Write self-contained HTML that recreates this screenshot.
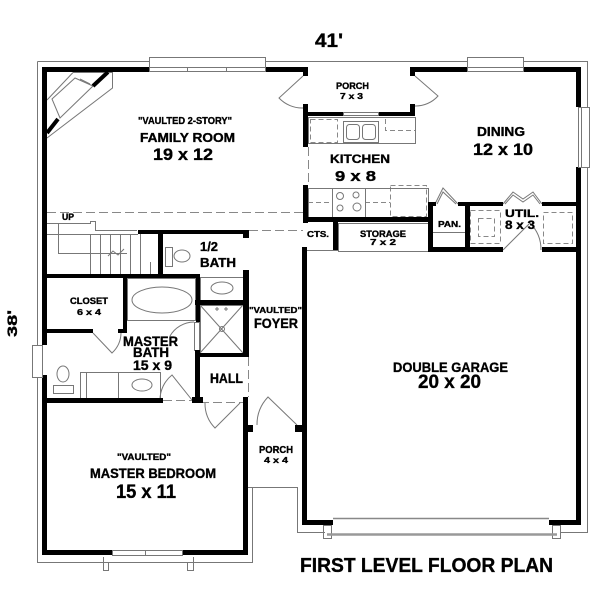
<!DOCTYPE html>
<html>
<head>
<meta charset="utf-8">
<style>
html,body{margin:0;padding:0;background:#fff;}
svg{display:block;}
text{font-family:"Liberation Sans",Arial,sans-serif;font-weight:bold;fill:#000;stroke:#000;stroke-width:0.35px;}
</style>
</head>
<body>
<svg width="600" height="600" viewBox="0 0 600 600" xmlns="http://www.w3.org/2000/svg">
<rect x="0" y="0" width="600" height="600" fill="#fff"/>

<g fill="none" stroke="#777" stroke-width="1">
  <path d="M37.5,61.5 H587.5 V532.5 H560"/>
  <path d="M37.5,61.5 V562.5 H252.5 V487.5"/>
  <path d="M248,487.5 H297.5 V532.5 H325"/>
  <path d="M103.5,557 V570.5 H108.5 V562.5"/>
  <path d="M187.5,562.5 V570.5 H193.5 V557"/>
</g>

<g fill="none" stroke="#888" stroke-width="1" stroke-dasharray="9,4">
  <path d="M47,212.5 H303"/>
  <path d="M249,230.5 H303"/>
  <path d="M308.5,147 V185"/>
  <path d="M248.5,357 V397"/>
  <path d="M200,402.5 H243"/>
  <path d="M163,400.5 H192"/>
</g>
<g fill="none" stroke="#888" stroke-width="1" stroke-dasharray="5,3">
  <rect x="310.5" y="119.5" width="27" height="23"/>
  <path d="M385.5,119 V130.5 H415"/>
  <path d="M308,202.5 H332 M365,202.5 H390"/>
  <rect x="390.5" y="185.5" width="36" height="31"/>
  <rect x="470.5" y="210.5" width="30" height="33"/>
  <rect x="478.5" y="218.5" width="16" height="18"/>
  <rect x="543.5" y="212.5" width="29" height="31"/>
</g>

<g fill="none" stroke="#777" stroke-width="1">
  <path d="M73,72.5 H112.5 V88 L47,138"/>
  <path d="M73,72.5 L47,100"/>
  <path d="M75,78 L93,86 L60,118 L52,99 Z"/>
  <path d="M80,79 L90,84"/>
  <path d="M47,223.5 H90.5 V221.5 H95.5 V230.5 H137"/>
  <path d="M47,234.5 H138"/>
  <path d="M58.5,223 V253.5 H127"/>
  <path d="M108,256 L113,251 L118,255 L124,249"/>
  <path d="M90.5,234 V275 M100.5,234 V275 M110.5,234 V275 M120.5,234 V275 M130.5,234 V275 M140.5,234 V275"/>
  <path d="M150.5,262 V275"/>
  <rect x="165.5" y="247.5" width="7" height="19"/>
  <ellipse cx="182" cy="256" rx="8" ry="6"/>
  <rect x="200.5" y="277.5" width="43" height="23"/>
  <ellipse cx="222" cy="288" rx="11" ry="6"/>
  <rect x="200.5" y="305.5" width="43" height="48"/>
  <path d="M200,305 L243,353 M243,305 L200,353"/>
  <circle cx="222" cy="329" r="2.5"/>
  <path d="M215,309 h4 M217,307 v4 M224,309 h4 M226,307 v4"/>
  <rect x="127.5" y="278.5" width="68" height="42"/>
  <ellipse cx="162" cy="300" rx="30" ry="13"/>
  <ellipse cx="63" cy="374" rx="6" ry="8"/>
  <rect x="53.5" y="385.5" width="20" height="8"/>
  <rect x="80.5" y="372.5" width="80" height="26"/>
  <path d="M86.5,372 V398 M118.5,372 V398"/>
  <ellipse cx="142" cy="385" rx="10" ry="6"/>
  <rect x="308.5" y="117.5" width="107" height="26"/>
  <rect x="343.5" y="121.5" width="35" height="21"/>
  <rect x="346.5" y="124.5" width="13" height="15" rx="3"/>
  <rect x="362.5" y="124.5" width="13" height="15" rx="3"/>
  <rect x="308.5" y="188.5" width="120" height="29"/>
  <rect x="332.5" y="188.5" width="33" height="29"/>
  <circle cx="340" cy="196" r="3.5"/>
  <circle cx="356" cy="195" r="3"/>
  <circle cx="340" cy="208" r="3"/>
  <circle cx="357" cy="207" r="4"/>
  <rect x="338.5" y="223.5" width="90" height="28"/>
  <path d="M303,250.5 H338"/>
  <path d="M433,232.5 H465"/>
  <path d="M303,76 L279,98 A32 32 0 0 0 303,108"/>
  <path d="M415,76 L438,96 A30 30 0 0 1 415,106"/>
  <path d="M297,425 L268,397 A40 40 0 0 0 257,425"/>
  <path d="M240,403 L215,428 A35 35 0 0 1 205,403"/>
  <path d="M93,333 L112,353 A28 28 0 0 0 121,333"/>
  <path d="M192,400 L172,375 A32 32 0 0 0 160,400"/>
  <rect x="194.5" y="322.5" width="5" height="28"/>
  <path d="M194,322 A28 28 0 0 0 170,336"/>
  <path d="M503,250 L530,223 A38 38 0 0 1 541,250"/>
  <path d="M435,204 L443,188 L458,204 M437,204 L443,192 L456,204"/>
  <path d="M503,204 L513,192 L523,199 L533,192 L542,204 M505,204 L513,195 L523,202 L533,195 L540,204"/>
  <rect x="323.5" y="525.5" width="8" height="13"/>
  <rect x="552.5" y="525.5" width="8" height="13"/>
</g>
<path d="M333,518.5 H549" stroke="#888" stroke-width="1.5"/>
<path d="M327,534.5 H557" stroke="#999" stroke-width="2.5"/>

<g fill="#000">
  <rect x="42" y="67" width="107" height="5"/>
  <rect x="265" y="67" width="43" height="5"/>
  <rect x="303" y="67" width="5" height="9"/>
  <rect x="303" y="104" width="5" height="12"/>
  <rect x="303" y="112" width="40" height="4"/>
  <rect x="378" y="112" width="37" height="4"/>
  <rect x="410" y="67" width="5" height="9"/>
  <rect x="410" y="104" width="5" height="12"/>
  <rect x="410" y="67" width="57" height="5"/>
  <rect x="523" y="67" width="58" height="5"/>
  <rect x="576" y="67" width="5" height="40"/>
  <rect x="576" y="167" width="5" height="358"/>
  <rect x="42" y="67" width="5" height="278"/>
  <rect x="42" y="375" width="5" height="180"/>
  <rect x="42" y="550" width="70" height="5"/>
  <rect x="182" y="550" width="66" height="5"/>
  <rect x="243" y="397" width="5" height="158"/>
  <rect x="243" y="270" width="6" height="87"/>
  <rect x="243" y="230" width="6" height="8"/>
  <rect x="138" y="230" width="111" height="4"/>
  <rect x="158" y="230" width="5" height="47"/>
  <rect x="42" y="274" width="158" height="4"/>
  <rect x="123" y="274" width="4" height="59"/>
  <rect x="42" y="329" width="51" height="4"/>
  <rect x="118" y="329" width="9" height="4"/>
  <rect x="196" y="274" width="4" height="48"/>
  <rect x="195" y="350" width="5" height="53"/>
  <rect x="195" y="300" width="54" height="5"/>
  <rect x="195" y="353" width="54" height="4"/>
  <rect x="42" y="398" width="121" height="5"/>
  <rect x="192" y="397" width="11" height="6"/>
  <rect x="302" y="247" width="5" height="278"/>
  <rect x="302" y="520" width="31" height="5"/>
  <rect x="549" y="520" width="32" height="5"/>
  <rect x="248" y="425" width="5" height="7"/>
  <rect x="295" y="425" width="8" height="7"/>
  <rect x="303" y="112" width="5" height="35"/>
  <rect x="303" y="185" width="5" height="38"/>
  <rect x="303" y="217" width="125" height="5"/>
  <rect x="333" y="222" width="5" height="28"/>
  <rect x="428" y="202" width="5" height="50"/>
  <rect x="428" y="202" width="8" height="4"/>
  <rect x="458" y="202" width="12" height="4"/>
  <rect x="465" y="202" width="5" height="50"/>
  <rect x="465" y="202" width="38" height="4"/>
  <rect x="542" y="202" width="39" height="4"/>
  <rect x="428" y="247" width="75" height="5"/>
  <rect x="542" y="247" width="39" height="5"/>
</g>
<path d="M93,86 L108,72" stroke="#000" stroke-width="4"/>
<path d="M47,133 L58,119" stroke="#000" stroke-width="4"/>

<g fill="#fff" stroke="#777" stroke-width="1">
  <rect x="149.5" y="57.5" width="116" height="14"/>
  <path d="M149,67.5 H265 M187.5,67 V72 M226.5,67 V72" fill="none"/>
  <rect x="467.5" y="57.5" width="56" height="14"/>
  <path d="M467,67.5 H523" fill="none"/>
  <rect x="343.5" y="112.5" width="35" height="3"/>
  <rect x="578.5" y="107.5" width="11" height="60"/>
  <path d="M581.5,107 V167" fill="none"/>
  <rect x="32.5" y="345.5" width="10" height="32"/>
  <path d="M42.5,345 V377" fill="none"/>
  <rect x="112.5" y="550.5" width="70" height="5"/>
  <path d="M145.5,550 V555" fill="none"/>
</g>

<text x="315" y="47" font-size="19" textLength="28" lengthAdjust="spacingAndGlyphs">41'</text>
<text transform="translate(17,337) rotate(-90)" x="0" y="0" font-size="14" textLength="27" lengthAdjust="spacingAndGlyphs">38'</text>

<text x="138" y="124" font-size="10" textLength="94" lengthAdjust="spacingAndGlyphs">"VAULTED 2-STORY"</text>
<text x="140" y="142" font-size="13" textLength="95" lengthAdjust="spacingAndGlyphs">FAMILY ROOM</text>
<text x="153" y="160" font-size="17" textLength="60" lengthAdjust="spacingAndGlyphs">19 x 12</text>

<text x="336" y="89" font-size="9.5" textLength="33" lengthAdjust="spacingAndGlyphs">PORCH</text>
<text x="340" y="99" font-size="8.5" textLength="23" lengthAdjust="spacingAndGlyphs">7 x 3</text>

<text x="330" y="163" font-size="12" textLength="60" lengthAdjust="spacingAndGlyphs">KITCHEN</text>
<text x="335" y="181" font-size="15" textLength="41" lengthAdjust="spacingAndGlyphs">9 x 8</text>

<text x="477" y="136" font-size="12.5" textLength="48" lengthAdjust="spacingAndGlyphs">DINING</text>
<text x="473" y="155" font-size="16.5" textLength="60" lengthAdjust="spacingAndGlyphs">12 x 10</text>

<text x="307" y="237" font-size="8.5" textLength="22" lengthAdjust="spacingAndGlyphs">CTS.</text>
<text x="360" y="237" font-size="9.5" textLength="46" lengthAdjust="spacingAndGlyphs">STORAGE</text>
<text x="370" y="245" font-size="8.5" textLength="26" lengthAdjust="spacingAndGlyphs">7 x 2</text>
<text x="438" y="227" font-size="8.5" textLength="23" lengthAdjust="spacingAndGlyphs">PAN.</text>
<text x="505" y="217" font-size="11" textLength="34" lengthAdjust="spacingAndGlyphs">UTIL.</text>
<text x="505" y="229" font-size="12" textLength="30" lengthAdjust="spacingAndGlyphs">8 x 3</text>

<text x="62" y="220" font-size="9" textLength="12" lengthAdjust="spacingAndGlyphs">UP</text>
<text x="200" y="251" font-size="12.5" textLength="18" lengthAdjust="spacingAndGlyphs">1/2</text>
<text x="200" y="267" font-size="12.5" textLength="36" lengthAdjust="spacingAndGlyphs">BATH</text>

<text x="70" y="304" font-size="9" textLength="38" lengthAdjust="spacingAndGlyphs">CLOSET</text>
<text x="77" y="315" font-size="8.5" textLength="24" lengthAdjust="spacingAndGlyphs">6 x 4</text>

<text x="123" y="346" font-size="13.5" textLength="55" lengthAdjust="spacingAndGlyphs">MASTER</text>
<text x="133" y="357" font-size="13.5" textLength="36" lengthAdjust="spacingAndGlyphs">BATH</text>
<text x="133" y="370" font-size="13.5" textLength="39" lengthAdjust="spacingAndGlyphs">15 x 9</text>

<text x="249" y="313" font-size="8.5" textLength="53" lengthAdjust="spacingAndGlyphs">"VAULTED"</text>
<text x="254" y="328" font-size="13.5" textLength="44" lengthAdjust="spacingAndGlyphs">FOYER</text>
<text x="210" y="383" font-size="13.5" textLength="33" lengthAdjust="spacingAndGlyphs">HALL</text>

<text x="117" y="460" font-size="9" textLength="54" lengthAdjust="spacingAndGlyphs">"VAULTED"</text>
<text x="90" y="478" font-size="13.5" textLength="126" lengthAdjust="spacingAndGlyphs">MASTER BEDROOM</text>
<text x="116" y="498" font-size="19" textLength="60" lengthAdjust="spacingAndGlyphs">15 x 11</text>

<text x="259" y="453" font-size="10" textLength="34" lengthAdjust="spacingAndGlyphs">PORCH</text>
<text x="264" y="463" font-size="8.5" textLength="24" lengthAdjust="spacingAndGlyphs">4 x 4</text>

<text x="393" y="372" font-size="13.5" textLength="115" lengthAdjust="spacingAndGlyphs">DOUBLE GARAGE</text>
<text x="418" y="388" font-size="19" textLength="63" lengthAdjust="spacingAndGlyphs">20 x 20</text>

<text x="300" y="572" font-size="20.5" textLength="253" lengthAdjust="spacingAndGlyphs">FIRST LEVEL FLOOR PLAN</text>
</svg>
</body>
</html>
